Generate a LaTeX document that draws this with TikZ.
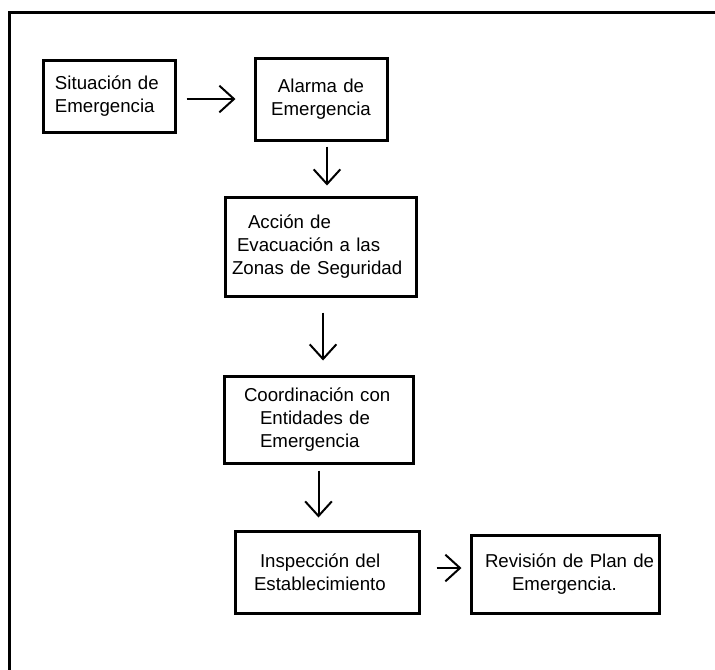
\documentclass[tikz,border=0pt]{standalone}
\usepackage{fontspec}
\setmainfont{Liberation Sans}
\usepackage{tikz}
\usetikzlibrary{arrows.meta}

\tikzset{
  caja/.style={draw, line width=2.25pt, inner xsep=0pt, inner ysep=0pt,
    font=\fontsize{14}{17.25}\selectfont, align=left},
  flecha/.style={line width=1.5pt, -{Straight Barb[length=11pt,width=20pt,line width=1.5pt]}},
  marco/.style={line width=2.25pt}
}

\begin{document}
\begin{tikzpicture}[x=0.75pt,y=0.75pt,yscale=-1]
\useasboundingbox (0,0) rectangle (715,669);

%Frame (open at right and bottom)
\draw [marco] (9,690) -- (9,12) -- (740,12) ;

%Boxes
\node [caja, text width=99pt, minimum height=54pt] (situacion) at (109,96)
  {\hspace*{9pt}Situación de\\\hspace*{9pt}Emergencia};
\node [caja, text width=99pt, minimum height=61.5pt, align=center] (alarma) at (321,99)
  {Alarma de\\Emergencia};
\node [caja, text width=143.25pt, minimum height=74.25pt] (accion) at (320.5,246.5)
  {\hspace*{17.25pt}Acción de\\\hspace*{9pt}Evacuación a las\\\hspace*{5.25pt}Zonas de Seguridad};
\node [caja, text width=141.75pt, minimum height=65.25pt] (coordinacion) at (318.5,419.5)
  {\hspace*{15pt}Coordinación con\\\hspace*{27pt}Entidades de\\\hspace*{27pt}Emergencia};
\node [caja, text width=138pt, minimum height=61.5pt] (inspeccion) at (327,572)
  {\hspace*{18.75pt}Inspección del\\\hspace*{14.25pt}Establecimiento};
\node [caja, text width=141pt, minimum height=58.5pt] (revision) at (565,574)
  {\hspace*{10.5pt}Revisión de Plan de\\\hspace*{30.75pt}Emergencia.};

%Arrows
\draw [flecha, shorten <=7.5pt, shorten >=13.5pt]
  ([yshift=2.25pt]situacion.east) -- ([yshift=2.25pt]situacion.east -| alarma.west) ;
\draw [flecha, shorten <=3.75pt, shorten >=7.5pt]
  ([xshift=4.5pt]alarma.south) -- ([xshift=4.5pt]alarma.south |- accion.north) ;
\draw [flecha, shorten <=11.25pt, shorten >=10.5pt]
  ([xshift=1.9pt]accion.south) -- ([xshift=1.9pt]accion.south |- coordinacion.north) ;
\draw [flecha, shorten <=4.5pt, shorten >=9pt]
  (coordinacion.south) -- (coordinacion.south |- inspeccion.north) ;
\draw [flecha, shorten <=12pt, shorten >=6pt]
  ([yshift=-3pt]inspeccion.east) -- ([yshift=-3pt]inspeccion.east -| revision.west) ;

\end{tikzpicture}
\end{document}
